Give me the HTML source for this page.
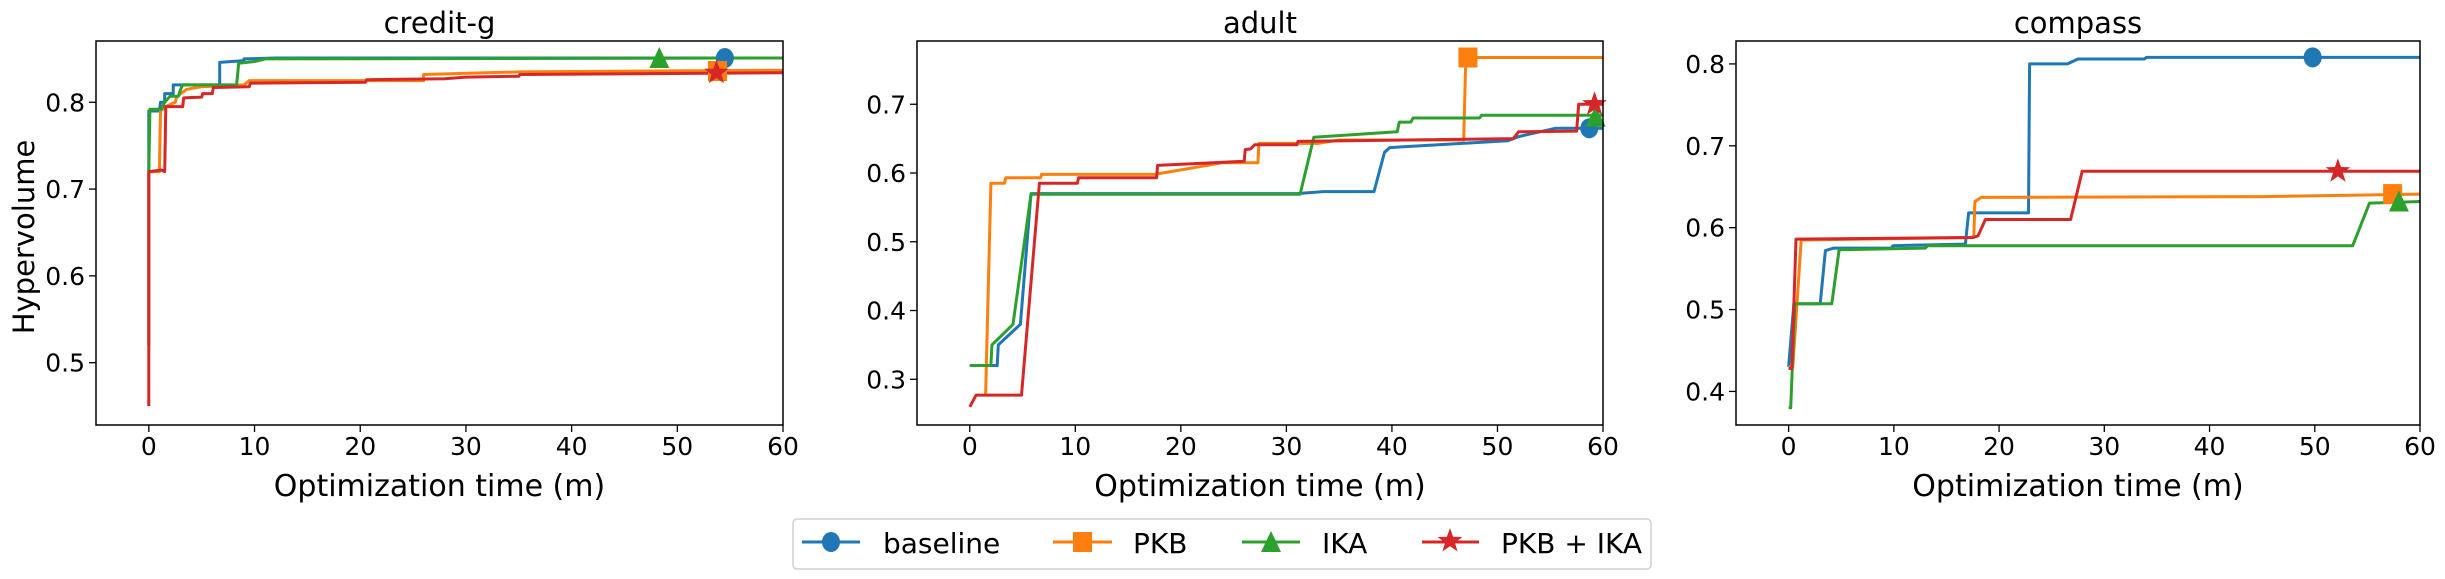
<!DOCTYPE html>
<html><head><meta charset="utf-8"><style>
html,body{margin:0;padding:0;background:#fff;}
svg{display:block;font-family:"DejaVu Sans","Liberation Sans",sans-serif;}
</style></head><body>
<svg id="chart" width="2445" height="579" viewBox="0 0 2445 579" xmlns="http://www.w3.org/2000/svg">
<text x="0" y="0" transform="translate(34,237) rotate(-90)" font-size="29" text-anchor="middle">Hypervolume</text>
<g>
<rect x="793" y="519" width="858" height="50" rx="4" fill="#fff" stroke="#d0d0d0" stroke-width="1.5"/>
<g><line x1="802" y1="542" x2="860" y2="542" stroke="#1f77b4" stroke-width="3"/><ellipse cx="831" cy="542" rx="9" ry="10" fill="#1f77b4"/><text x="883" y="553" font-size="28">baseline</text></g>
<g><line x1="1053" y1="542" x2="1112" y2="542" stroke="#ff7f0e" stroke-width="3"/><rect x="1073" y="532" width="19" height="20" fill="#ff7f0e"/><text x="1133" y="553" font-size="28">PKB</text></g>
<g><line x1="1242" y1="542" x2="1300" y2="542" stroke="#2ca02c" stroke-width="3"/><polygon points="1271,531 1281,552 1261,552" fill="#2ca02c"/><text x="1322" y="553" font-size="28">IKA</text></g>
<g><line x1="1422" y1="542" x2="1479" y2="542" stroke="#d62728" stroke-width="3"/><polygon id="legstar" fill="#d62728"/><text x="1501" y="553" font-size="28">PKB + IKA</text></g>
</g>
</svg>
<script>
// ---- credit-g ----
const creditBaselineT = [0,0,1,1.1,1.5,1.5,2.3,2.3,6.7,6.7,9,9,12,60];
const creditBaselineHV = [0.52,0.79,0.79,0.80,0.80,0.81,0.81,0.82,0.82,0.846,0.848,0.850,0.851,0.851];
const creditPkbT = [0,0,1,1.1,1.6,2.5,2.6,3,3.6,5,9,9.5,26,26,35,60];
const creditPkbHV = [0.52,0.72,0.72,0.79,0.795,0.80,0.805,0.81,0.815,0.818,0.82,0.825,0.825,0.832,0.835,0.837];
const creditIkaT = [0,0.1,1.2,1.5,2,2.8,3,3.2,8.3,8.5,10,11,60];
const creditIkaHV = [0.72,0.792,0.792,0.80,0.807,0.807,0.815,0.82,0.82,0.845,0.847,0.850,0.851];
const creditBothT = [0,0,1.2,1.5,1.6,3.2,3.3,5,5.1,6,6.1,9.5,9.6,20.5,20.6,28,30,35,35.1,60];
const creditBothHV = [0.45,0.72,0.722,0.72,0.795,0.795,0.805,0.806,0.81,0.81,0.817,0.818,0.822,0.823,0.826,0.827,0.829,0.830,0.832,0.834];
const creditMarkerT = [54.5,53.8,48.3,53.7];
const creditMarkerHV = [0.851,0.836,0.851,0.834];
const creditYTicks = [0.5,0.6,0.7,0.8];
// ---- adult ----
const adultBaselineT = [0,2.6,2.7,4.8,5.8,31,33.5,38.3,39.3,39.8,51,52,55.5,60];
const adultBaselineHV = [0.32,0.32,0.35,0.38,0.57,0.57,0.573,0.573,0.63,0.637,0.647,0.653,0.665,0.665];
const adultPkbT = [1.5,2,3.3,3.4,6.7,6.8,17.5,24,27.3,27.4,33,35,46.8,47,60];
const adultPkbHV = [0.277,0.585,0.585,0.593,0.593,0.598,0.598,0.615,0.615,0.643,0.643,0.648,0.648,0.768,0.768];
const adultIkaT = [0,2,2.1,4.1,5.8,31.3,32.6,40.5,40.7,41.8,42,48.3,48.5,60];
const adultIkaHV = [0.32,0.32,0.35,0.38,0.569,0.569,0.652,0.66,0.674,0.674,0.68,0.68,0.684,0.684];
const adultBothT = [0,0.6,4.9,6.6,10.2,10.3,17.7,17.8,26,26.1,26.6,27,31,31.1,51.5,52,57.5,57.7,60];
const adultBothHV = [0.26,0.277,0.277,0.585,0.585,0.593,0.593,0.611,0.617,0.634,0.635,0.641,0.641,0.646,0.65,0.66,0.661,0.70,0.70];
const adultMarkerT = [58.7,47.2,59.3,59.2];
const adultMarkerHV = [0.665,0.768,0.682,0.70];
const adultYTicks = [0.3,0.4,0.5,0.6,0.7];
// ---- compass ----
const compassBaselineT = [0,0.5,3,3.5,4.3,9.8,9.9,16.8,17.1,22.8,22.9,26.5,27.5,33.8,34,60];
const compassBaselineHV = [0.43,0.507,0.507,0.572,0.575,0.575,0.578,0.58,0.618,0.618,0.80,0.80,0.806,0.806,0.808,0.808];
const compassPkbT = [0,0.4,1.2,17.6,17.7,18.3,45,60];
const compassPkbHV = [0.43,0.43,0.585,0.588,0.632,0.637,0.638,0.641];
const compassIkaT = [0,0.2,0.6,4.1,4.8,13,13.2,53.6,55.2,60];
const compassIkaHV = [0.38,0.38,0.507,0.507,0.573,0.575,0.578,0.578,0.63,0.632];
const compassBothT = [0,0.3,0.7,17.5,18,18.7,26.8,27.9,60];
const compassBothHV = [0.428,0.428,0.586,0.588,0.59,0.61,0.61,0.669,0.669];
const compassMarkerT = [49.8,57.4,58,52.2];
const compassMarkerHV = [0.808,0.641,0.632,0.669];
const compassYTicks = [0.4,0.5,0.6,0.7,0.8];

const xTicks = [0,10,20,30,40,50,60];
const seriesNames = ['baseline','pkb','ika','pkb-ika'];
const colors = ['#1f77b4','#ff7f0e','#2ca02c','#d62728'];
const NS = 'http://www.w3.org/2000/svg';
const svg = document.getElementById('chart');

function mk(tag, attrs, parent){
  const e = document.createElementNS(NS, tag);
  for (const k in attrs) e.setAttribute(k, attrs[k]);
  (parent||svg).appendChild(e);
  return e;
}
function starPts(cx, cy, R){
  const r = R*0.4; const p = [];
  for (let i=0;i<10;i++){
    const a = -Math.PI/2 + i*Math.PI/5; const rr = i%2?r:R;
    p.push((cx+rr*Math.cos(a)).toFixed(1)+','+(cy+rr*Math.sin(a)).toFixed(1));
  }
  return p.join(' ');
}
document.getElementById('legstar').setAttribute('points', starPts(1450,541,13));

const panels = [
  {key:'credit-g', L:96, R:783, ymin:0.4282, ymax:0.8706, yt:creditYTicks,
   ts:[creditBaselineT,creditPkbT,creditIkaT,creditBothT], hs:[creditBaselineHV,creditPkbHV,creditIkaHV,creditBothHV], mt:creditMarkerT, mh:creditMarkerHV},
  {key:'adult', L:917, R:1603, ymin:0.2335, ymax:0.792, yt:adultYTicks,
   ts:[adultBaselineT,adultPkbT,adultIkaT,adultBothT], hs:[adultBaselineHV,adultPkbHV,adultIkaHV,adultBothHV], mt:adultMarkerT, mh:adultMarkerHV},
  {key:'compass', L:1736, R:2420, ymin:0.359, ymax:0.828, yt:compassYTicks,
   ts:[compassBaselineT,compassPkbT,compassIkaT,compassBothT], hs:[compassBaselineHV,compassPkbHV,compassIkaHV,compassBothHV], mt:compassMarkerT, mh:compassMarkerHV}
];
const TOP = 41, BOT = 425;

panels.forEach(p => {
  const xs = v => p.L + (v + 5) / 65 * (p.R - p.L);
  const ys = v => BOT - (v - p.ymin) / (p.ymax - p.ymin) * (BOT - TOP);
  const g = mk('g', {});
  
  
  const clipId = 'clip-' + p.key;
  const cp = mk('clipPath', {id: clipId}, g);
  mk('rect', {x:p.L, y:TOP, width:p.R-p.L, height:BOT-TOP}, cp);
  const title = mk('text', {x:(p.L+p.R)/2, y:33, 'font-size':29, 'text-anchor':'middle'}, g);
  
  
  title.textContent = p.key;
  const xl = mk('text', {x:(p.L+p.R)/2, y:496, 'font-size':30, 'text-anchor':'middle'}, g);
  
  
  xl.textContent = 'Optimization time (m)';
  xTicks.forEach(t => {
    const x = xs(t);
    mk('line', {x1:x, y1:BOT, x2:x, y2:BOT+7, stroke:'#000', 'stroke-width':1.3}, g);
    const tl = mk('text', {x:x, y:455, 'font-size':25, 'text-anchor':'middle'}, g);
    
    
    tl.textContent = t;
  });
  p.yt.forEach(t => {
    const y = ys(t);
    mk('line', {x1:p.L-7, y1:y, x2:p.L, y2:y, stroke:'#000', 'stroke-width':1.3}, g);
    const tl = mk('text', {x:p.L-11, y:y+9, 'font-size':25, 'text-anchor':'end'}, g);
    
    
    tl.textContent = t.toFixed(1);
  });
  const lg = mk('g', {'clip-path':'url(#'+clipId+')'}, g);
  p.ts.forEach((T, i) => {
    const H = p.hs[i];
    const pts = T.map((t, j) => xs(t).toFixed(1) + ',' + ys(H[j]).toFixed(1)).join(' ');
    const pl = mk('polyline', {points:pts, fill:'none', stroke:colors[i], 'stroke-width':3, 'stroke-linejoin':'round'}, lg);
    
    
  });
  p.mt.forEach((t, i) => {
    const cx = xs(t), cy = ys(p.mh[i]);
    let m;
    if (i === 0) m = mk('ellipse', {cx:cx, cy:cy, rx:9, ry:10, fill:colors[0]}, g);
    else if (i === 1) m = mk('rect', {x:cx-9.5, y:cy-10, width:19, height:20, fill:colors[1]}, g);
    else if (i === 2) m = mk('polygon', {points:(cx)+','+(cy-11)+' '+(cx+10)+','+(cy+10)+' '+(cx-10)+','+(cy+10), fill:colors[2]}, g);
    else m = mk('polygon', {points:starPts(cx, cy, 13), fill:colors[3]}, g);
    
    
  });
  const fr = mk('rect', {x:p.L, y:TOP, width:p.R-p.L, height:BOT-TOP, fill:'none', stroke:'#000', 'stroke-width':1.5}, g);
  
  
});
</script>
</body></html>
